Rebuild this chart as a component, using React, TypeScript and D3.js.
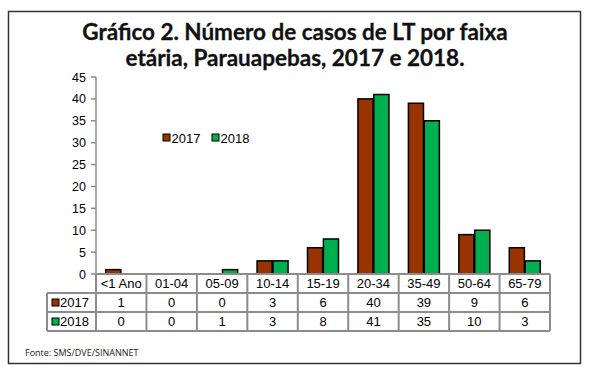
import React from "react";
import * as d3 from "d3";

const categories = ["<1 Ano", "01-04", "05-09", "10-14", "15-19", "20-34", "35-49", "50-64", "65-79"];
const series2017 = [1, 0, 0, 3, 6, 40, 39, 9, 6];
const series2018 = [0, 0, 1, 3, 8, 41, 35, 10, 3];
const seriesNames = ["2017", "2018"];
const yTicks = [0, 5, 10, 15, 20, 25, 30, 35, 40, 45];
const titleLines = ["Gráfico 2. Número de casos de LT por faixa", "etária, Parauapebas, 2017 e 2018."];
const sourceText = "Fonte: SMS/DVE/SINANNET";

const colors = ["#993300", "#00B050"];
const gridColor = "#8c8c8c";
const font = "'Liberation Sans', Arial, sans-serif";

export default function App() {
  const W = 590, H = 367;
  const x0 = 96, x1 = 550;
  const yTop = 77, yBot = 274;
  const x = d3.scaleBand<string>().domain(categories).range([x0, x1]).padding(0);
  const bw = x.bandwidth();
  const sub = d3.scaleBand<string>().domain(seriesNames).range([(bw - 31) / 2, (bw + 31) / 2]).paddingInner(0.05);
  const y = d3.scaleLinear().domain([0, 45]).range([yBot, yTop]);
  const data = [series2017, series2018];
  const rowH = 19;
  const legX = 47;
  const rows = [yBot, yBot + rowH, yBot + 2 * rowH, yBot + 3 * rowH];

  return (
    <svg width={W} height={H} style={{ position: "absolute", left: 0, top: 0 }} fontFamily={font}>
      <rect x={0} y={0} width={W} height={H} fill="#fff" />
      <rect x={8.5} y={11.5} width={572} height={352} fill="none" stroke="#333" strokeWidth={1.5} />
      {titleLines.map((t, i) => (
        <text key={i} x={295} y={40 + i * 26} textAnchor="middle" fontFamily="Lato, 'Open Sans', sans-serif"
          fontWeight={700} fontSize={22.5} fill="#111" stroke="#111" strokeWidth={0.3}>{t}</text>
      ))}
      {/* y axis */}
      <line x1={x0} x2={x0} y1={yTop} y2={yBot} stroke={gridColor} strokeWidth={1.5} />
      {yTicks.map((t) => (
        <g key={t}>
          <line x1={x0 - 5} x2={x0} y1={y(t)} y2={y(t)} stroke={gridColor} strokeWidth={1.5} />
          <text x={86} y={y(t) + 4.5} textAnchor="end" fontSize={12.5} fill="#000">{t}</text>
        </g>
      ))}
      {/* bars */}
      {categories.map((c, i) => (
        <g key={c} transform={`translate(${x(c)},0)`}>
          {seriesNames.map((s, j) => (
            data[j][i] > 0 ? (
              <rect key={s} x={sub(s)} y={y(data[j][i])} width={sub.bandwidth()} height={yBot - y(data[j][i])}
                fill={colors[j]} stroke="#000" strokeWidth={1.5} />
            ) : null
          ))}
        </g>
      ))}
      {/* legend */}
      {seriesNames.map((s, j) => (
        <g key={s} transform={`translate(${163 + j * 49},138)`}>
          <rect x={0} y={-4} width={7} height={7} fill={colors[j]} stroke="#000" strokeWidth={1} />
          <text x={8.5} y={4.5} fontSize={13} fill="#000">{s}</text>
        </g>
      ))}
      {/* table */}
      <g>
        <rect x={x0} y={rows[0]} width={x1 - x0} height={rowH} fill="#fff" />
        {rows.map((ry, i) => (
          <line key={"h" + i} x1={i === 0 ? x0 : legX} x2={x1} y1={ry} y2={ry} stroke={gridColor} strokeWidth={2} />
        ))}
        <line x1={legX} x2={legX} y1={rows[1]} y2={rows[3]} stroke={gridColor} strokeWidth={2} />
        {categories.map((c, i) => (
          <line key={"v" + i} x1={x(c)} x2={x(c)} y1={rows[0]} y2={rows[3]} stroke={gridColor} strokeWidth={2} />
        ))}
        <line x1={x1} x2={x1} y1={rows[0]} y2={rows[3]} stroke={gridColor} strokeWidth={2} />
        {categories.map((c) => (
          <text key={"c" + c} x={(x(c) as number) + bw / 2} y={rows[0] + 14} textAnchor="middle" fontSize={13} fill="#000">{c}</text>
        ))}
        {seriesNames.map((s, j) => (
          <g key={"r" + s}>
            <rect x={legX + 5} y={rows[j + 1] + 6} width={7} height={7} fill={colors[j]} stroke="#000" strokeWidth={1} />
            <text x={legX + 13} y={rows[j + 1] + 14} fontSize={13} fill="#000">{s}</text>
            {categories.map((c, i) => (
              <text key={c} x={(x(c) as number) + bw / 2} y={rows[j + 1] + 14} textAnchor="middle" fontSize={13} fill="#000">{data[j][i]}</text>
            ))}
          </g>
        ))}
      </g>
      <text x={25} y={356} fontFamily="'Open Sans', sans-serif" fontSize={9} fill="#222">{sourceText}</text>
    </svg>
  );
}
